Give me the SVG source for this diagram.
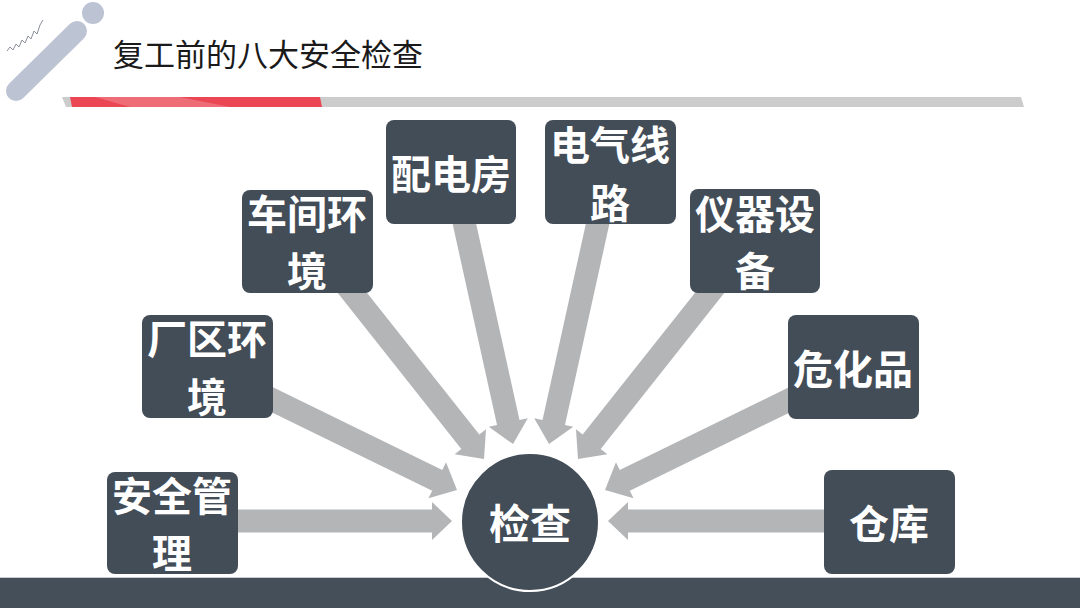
<svg xmlns="http://www.w3.org/2000/svg" width="1080" height="608" viewBox="0 0 1080 608">
<style>
.box{fill:#434d57}
.lbl{font-family:"Noto Sans CJK SC","Noto Sans",sans-serif;font-weight:bold;font-size:40px;fill:#ffffff;text-anchor:middle;dominant-baseline:central}
.arr{fill:#b4b5b7}
.title{font-family:"Noto Sans CJK SC","Noto Sans",sans-serif;font-size:31px;fill:#1a1a1a;dominant-baseline:central}
</style>
<rect width="1080" height="608" fill="#ffffff"/>
<g id="logo">
<line x1="16" y1="91" x2="77" y2="31" stroke="#bcc3d3" stroke-width="20" stroke-linecap="round"/>
<circle cx="93" cy="13" r="11" fill="#bcc3d3"/>
<polyline points="7,51 10,47 13,50 16,44 19,47 22,40 25,43 28,36 31,39 34,31 37,34 40,25 43,20" fill="none" stroke="#8a8f99" stroke-width="1"/>
</g>
<text class="title" x="113" y="52">复工前的八大安全检查</text>
<g id="header-bar">
<polygon points="62,97 1021,97 1024,107 66,107" fill="#cccccc"/>
<polygon points="70,97 320,97 322,107 72,107" fill="#ea4653"/>
<polygon points="95,97 180,97 230,107 130,107" fill="#f07c86" opacity="0.7"/>
</g>
<rect id="footer" x="0" y="578" width="1080" height="30" fill="#454f5a"/>
<line x1="0" y1="577.5" x2="1080" y2="577.5" stroke="#c8cbd0" stroke-width="1"/>
<g id="connectors">
<g transform="translate(452,521)"><path class="arr" d="M-220,-11.5 H-20 V-19 L0,0 L-20,19 V11.5 H-220 Z"/></g>
<g transform="translate(608,521) rotate(180)"><path class="arr" d="M-220,-11.5 H-20 V-19 L0,0 L-20,19 V11.5 H-220 Z"/></g>
<g transform="translate(457,490) rotate(26.06)"><path class="arr" d="M-215,-11.5 H-22 V-20 L0,0 L-22,20 V11.5 H-215 Z"/></g>
<g transform="translate(605,490) rotate(153.94)"><path class="arr" d="M-215,-11.5 H-22 V-20 L0,0 L-22,20 V11.5 H-215 Z"/></g>
<g transform="translate(484,459) rotate(51.6)"><path class="arr" d="M-225,-11.5 H-22 V-20 L0,0 L-22,20 V11.5 H-225 Z"/></g>
<g transform="translate(578,459) rotate(128.4)"><path class="arr" d="M-225,-11.5 H-22 V-20 L0,0 L-22,20 V11.5 H-225 Z"/></g>
<g transform="translate(513,444) rotate(77.55)"><path class="arr" d="M-240,-11.5 H-22 V-20 L0,0 L-22,20 V11.5 H-240 Z"/></g>
<g transform="translate(549,444) rotate(102.45)"><path class="arr" d="M-240,-11.5 H-22 V-20 L0,0 L-22,20 V11.5 H-240 Z"/></g>
</g>
<g id="node-anquan"><rect class="box" x="107" y="472" width="131" height="102" rx="8"/><text class="lbl" x="172" y="494">安全管</text><text class="lbl" x="172" y="551">理</text></g>
<g id="node-changqu"><rect class="box" x="142" y="315" width="131" height="103" rx="8"/><text class="lbl" x="207" y="337">厂区环</text><text class="lbl" x="207" y="395">境</text></g>
<g id="node-chejian"><rect class="box" x="242" y="190" width="131" height="103" rx="8"/><text class="lbl" x="307" y="212">车间环</text><text class="lbl" x="307" y="269">境</text></g>
<g id="node-peidian"><rect class="box" x="386" y="120" width="130" height="104" rx="8"/><text class="lbl" x="451" y="172">配电房</text></g>
<g id="node-dianqi"><rect class="box" x="545" y="120" width="131" height="104" rx="8"/><text class="lbl" x="610" y="143">电气线</text><text class="lbl" x="610" y="201">路</text></g>
<g id="node-yiqi"><rect class="box" x="690" y="189" width="130" height="104" rx="8"/><text class="lbl" x="755" y="212">仪器设</text><text class="lbl" x="755" y="269">备</text></g>
<g id="node-weihua"><rect class="box" x="788" y="315" width="131" height="104" rx="8"/><text class="lbl" x="853" y="367">危化品</text></g>
<g id="node-cangku"><rect class="box" x="824" y="470" width="131" height="104" rx="8"/><text class="lbl" x="889" y="522">仓库</text></g>
<g id="node-jiancha"><circle cx="530" cy="522" r="69" fill="#434d57" stroke="#ffffff" stroke-width="2"/><text class="lbl" x="530" y="521" style="font-size:41px">检查</text></g>
</svg>
